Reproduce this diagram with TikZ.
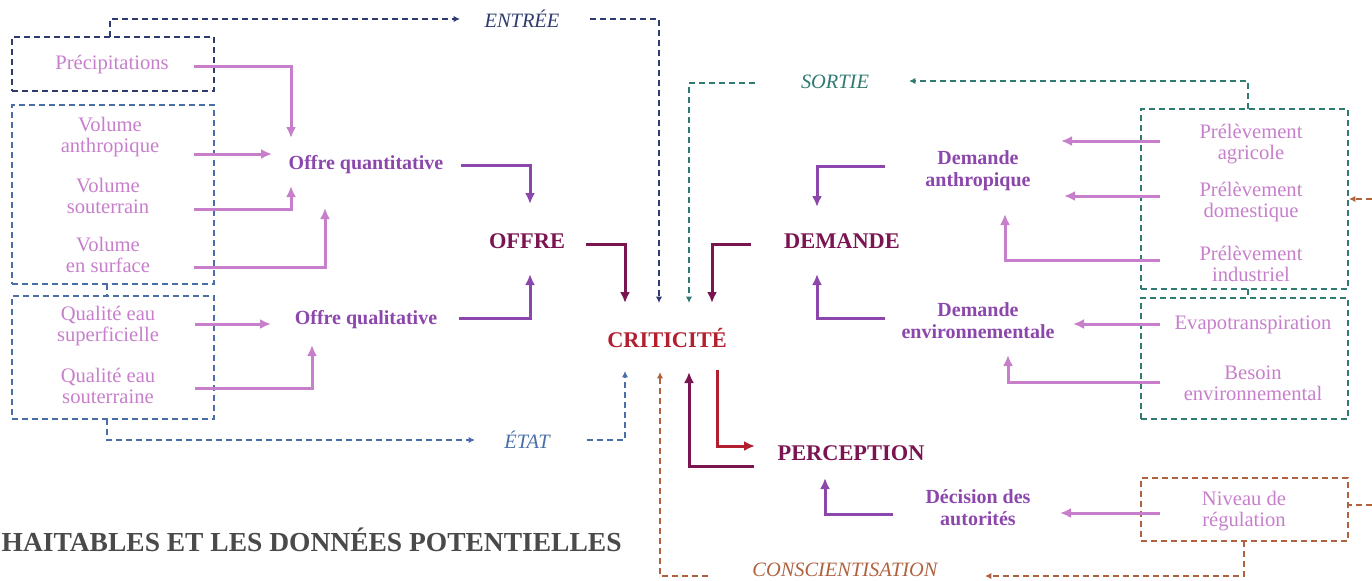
\documentclass[tikz,border=0pt]{standalone}
\usepackage{fontspec}
\setmainfont{Liberation Serif}
\usetikzlibrary{arrows.meta,fit}
\definecolor{lp}{HTML}{C77FCC}
\definecolor{mp}{HTML}{8C47AC}
\definecolor{dm}{HTML}{7A1552}
\definecolor{cr}{HTML}{B2202F}
\definecolor{nv}{HTML}{2F3B70}
\definecolor{st}{HTML}{4A6FA8}
\definecolor{tl}{HTML}{2F7B72}
\definecolor{rs}{HTML}{B0623F}
\definecolor{tg}{HTML}{4A4A4A}
\tikzset{
  lbl/.style={text=lp, font=\fontsize{10.3}{10.6}\selectfont, align=center, inner sep=0pt, yshift=-1pt},
  midl/.style={text=mp, font=\bfseries\fontsize{10}{11}\selectfont, align=center, inner sep=0pt, yshift=-1.1pt},
  bigl/.style={font=\bfseries\fontsize{11.2}{13}\selectfont, inner sep=0pt, yshift=-0.4pt},
  flowl/.style={font=\itshape\fontsize{10.2}{11}\selectfont, inner sep=0pt},
  sarr/.style={line width=1.5pt, -{Latex[length=5.5pt,width=5pt]}},
  dsh/.style={line width=0.65pt, dash pattern=on 3pt off 2pt},
  darr/.style={dsh, -{Latex[length=3.2pt,width=3.2pt]}},
  dbox/.style={dsh, draw, inner sep=0pt},
}
\begin{document}
\begin{tikzpicture}[x=0.5pt,y=-0.5pt]
\useasboundingbox (0,0) rectangle (1372,580);
\clip (0,0) rectangle (1372,580);

% ---------- left boxes ----------
\node[dbox, draw=nv, fit={(12,37) (214,91)}] (boxp) {};
\node[dbox, draw=st, fit={(12,105) (214,284)}] (boxv) {};
\node[dbox, draw=st, fit={(12,296) (214,419)}] (boxq) {};
\draw[dsh, st] (107,284) -- (107,296);

\node[lbl] (prec) at (112,63) {Précipitations};
\node[lbl] (vant) at (110,135) {Volume\\anthropique};
\node[lbl] (vsout) at (108,194) {Volume\\souterrain};
\node[lbl] (vsurf) at (108,253) {Volume\\en surface};
\node[lbl] (qsup) at (108,324) {Qualité eau\\superficielle};
\node[lbl] (qsout) at (108,384) {Qualité eau\\souterraine};

\node[midl] (oquant) at (366,162) {Offre quantitative};
\node[midl] (oqual) at (366,317) {Offre qualitative};
\node[bigl, text=dm] (offre) at (527,240) {OFFRE};
\node[bigl, text=cr] (crit) at (667,337) {CRITICITÉ};
\node[bigl, text=dm] (dem) at (842,240) {DEMANDE};
\node[bigl, text=dm] (perc) at (851,452) {PERCEPTION};

\node[midl] (danth) at (978,168) {Demande\\anthropique};
\node[midl] (denv) at (978,318) {Demande\\environnementale};
\node[midl] (decis) at (978,505) {Décision des\\autorités};

% ---------- right boxes ----------
\node[dbox, draw=tl, fit={(1141,109) (1348,289)}] (boxpr) {};
\node[dbox, draw=tl, fit={(1141,298) (1348,419)}] (boxev) {};
\draw[dsh, tl] (1248,289) -- (1248,298);
\node[dbox, draw=rs, fit={(1141,478) (1348,541)}] (boxn) {};

\node[lbl] (pagr) at (1251,142) {Prélèvement\\agricole};
\node[lbl] (pdom) at (1251,200) {Prélèvement\\domestique};
\node[lbl] (pind) at (1251,262) {Prélèvement\\industriel};
\node[lbl] (evap) at (1253,323) {Evapotranspiration};
\node[lbl] (bes) at (1253,381) {Besoin\\environnemental};
\node[lbl] (niv) at (1244,509) {Niveau de\\régulation};

% ---------- flow labels ----------
\node[flowl, text=nv] (entree) at (522,19) {ENTRÉE};
\node[flowl, text=st] (etat) at (527,440) {ÉTAT};
\node[flowl, text=tl] (sortie) at (835,82) {SORTIE};
\node[flowl, text=rs] (consc) at (845,570) {CONSCIENTISATION};

\node[anchor=base east, text=tg, font=\bfseries\fontsize{13.75}{16}\selectfont, inner sep=0pt] (title) at (622,551) {HAITABLES ET LES DONNÉES POTENTIELLES};

% ---------- light arrows (inputs) ----------
\draw[sarr, lp] (194,66) -- (291,66) -- (291,138);
\draw[sarr, lp] (194,154) -- (272,154);
\draw[sarr, lp] (194,209) -- (291,209) -- (291,186);
\draw[sarr, lp] (194,267) -- (325,267) -- (325,208);
\draw[sarr, lp] (195,324) -- (271,324);
\draw[sarr, lp] (195,388) -- (312,388) -- (312,345);

\draw[sarr, lp] (1160,141) -- (1061,141);
\draw[sarr, lp] (1160,196) -- (1064,196);
\draw[sarr, lp] (1160,260) -- (1005,260) -- (1005,214);
\draw[sarr, lp] (1160,324) -- (1073,324);
\draw[sarr, lp] (1160,382) -- (1008,382) -- (1008,355);
\draw[sarr, lp] (1160,513) -- (1060,513);

% ---------- medium arrows ----------
\draw[sarr, mp] (461,165) -- (530,165) -- (530,204);
\draw[sarr, mp] (459,318) -- (530,318) -- (530,274);
\draw[sarr, mp] (885,166) -- (817,166) -- (817,207);
\draw[sarr, mp] (885,318) -- (817,318) -- (817,274);
\draw[sarr, mp] (893,514) -- (825,514) -- (825,478);

% ---------- dark arrows ----------
\draw[sarr, dm] (586,244) -- (625,244) -- (625,303);
\draw[sarr, dm] (751,244) -- (712,244) -- (712,303);
\draw[sarr, cr] (717,370) -- (717,446) -- (755,446);
\draw[sarr, dm] (754,466) -- (689,466) -- (689,372);

% ---------- dashed flows ----------
\draw[darr, nv] (110,37) -- (110,19) -- (460,19);
\draw[darr, nv] (590,19) -- (659,19) -- (659,303);
\draw[darr, st] (107,419) -- (107,440) -- (475,440);
\draw[darr, st] (587,440) -- (625,440) -- (625,371);
\draw[darr, tl] (1248,109) -- (1248,81) -- (909,81);
\draw[darr, tl] (755,83) -- (689,83) -- (689,303);
\draw[darr, rs] (1244,541) -- (1244,576) -- (985,576);
\draw[darr, rs] (708,576) -- (660,576) -- (660,372);
\draw[darr, rs] (1372,199) -- (1349,199);
\draw[dsh, rs] (1372,505) -- (1348,505);
\end{tikzpicture}
\end{document}
